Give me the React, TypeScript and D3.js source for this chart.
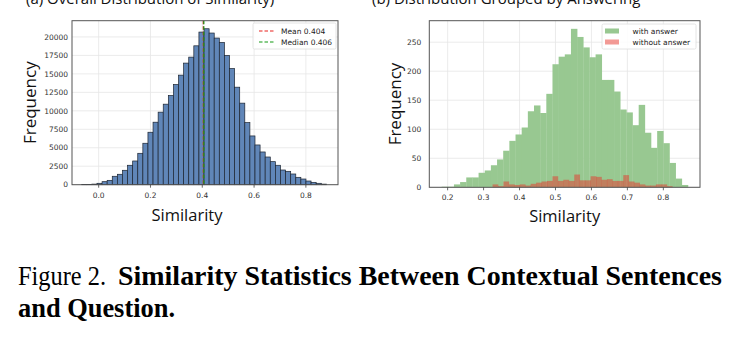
import React from 'react';
import * as d3 from 'd3';

// (a) all sentences: histogram counts, equal bins
const allCounts = [
  10, 30, 80, 190, 410, 590, 1140, 1410, 1950, 2630,
  3210, 4250, 5610, 7100, 8460, 9820, 10900, 12070, 13560, 14830,
  16460, 17270, 18800, 20660, 21110, 20530, 19850, 19260, 17500, 15730,
  13200, 11040, 8400, 6600, 5380, 4430, 3750, 3120, 2630, 1990,
  1810, 1450, 1000, 770, 500, 320, 190, 80,
];
const allBinStart = -0.0656;
const allBinWidth = 0.01968;
const meanValue = 0.404;
const medianValue = 0.406;
const leftXTicks = [0.0, 0.2, 0.4, 0.6, 0.8];
const leftYTicks = [0, 2500, 5000, 7500, 10000, 12500, 15000, 17500, 20000];

// (b) with / without answer
const withAnswer = [
  1, 1, 5, 9, 17, 17, 25, 29, 38, 48,
  63, 80, 91, 103, 131, 141, 128, 161, 212, 225,
  229, 273, 259, 241, 224, 229, 185, 185, 165, 134,
  129, 107, 142, 94, 68, 97, 76, 42, 15, 4,
];
const withStart = 0.1833;
const withWidth = 0.01713;
const withoutAnswer = [
  5, 2, 10, 5, 4, 5, 3, 6, 8, 10,
  11, 19, 11, 13, 11, 22, 12, 12, 19, 18,
  13, 14, 11, 11, 21, 10, 8, 5, 3, 3,
  5, 5, 2,
];
const withoutStart = 0.325;
const withoutWidth = 0.01515;
const rightXTicks = [0.2, 0.3, 0.4, 0.5, 0.6, 0.7, 0.8];
const rightYTicks = [0, 50, 100, 150, 200, 250];

const tickFont = 'DejaVu Sans, sans-serif';
const labelFont = 'Open Sans, sans-serif';
const serif = 'Liberation Serif, Times New Roman, serif';

const fmt1 = d3.format('.1f');

const App: React.FC = () => {
  // left panel scales
  const lx = d3.scaleLinear().domain([-0.103, 0.924]).range([72, 338]);
  const ly = d3.scaleLinear().domain([0, 22200]).range([184.7, 20.7]);
  // right panel scales
  const rx = d3.scaleLinear().domain([0.149, 0.902]).range([429.3, 700]);
  const ry = d3.scaleLinear().domain([0, 287]).range([187.3, 20.7]);

  const [lx0, lx1] = lx.range();
  const [ly0, ly1] = ly.range();
  const [rx0, rx1] = rx.range();
  const [ry0, ry1] = ry.range();

  return (
    <svg width={740} height={338} style={{ position: 'absolute', left: 0, top: 0, background: '#fff' }}>
      {/* sub captions, cut off at the top edge like in the page crop */}
      <text x={26} y={3.5} fontFamily={labelFont} fontSize={15} fill="#111">
        (a) Overall Distribution of Similarity)
      </text>
      <text x={372} y={3.5} fontFamily={labelFont} fontSize={15} fill="#111">
        (b) Distribution Grouped by Answering
      </text>

      {/* ---------- left panel ---------- */}
      <g>
        {leftXTicks.map((t) => (
          <line key={'lgx' + t} x1={lx(t)} x2={lx(t)} y1={ly1} y2={ly0} stroke="#e6e6e6" strokeWidth={0.8} />
        ))}
        {leftYTicks.map((t) => (
          <line key={'lgy' + t} x1={lx0} x2={lx1} y1={ly(t)} y2={ly(t)} stroke="#e6e6e6" strokeWidth={0.8} />
        ))}
        {allCounts.map((c, i) => {
          const a = allBinStart + i * allBinWidth;
          const b = a + allBinWidth;
          return (
            <rect
              key={'lb' + i}
              x={lx(a)}
              y={ly(c)}
              width={lx(b) - lx(a)}
              height={ly(0) - ly(c)}
              fill="#6086b8"
              stroke="#1c2430"
              strokeWidth={0.7}
            />
          );
        })}
        <line x1={lx(meanValue)} x2={lx(meanValue)} y1={ly1} y2={ly0} stroke="#e8201c" strokeWidth={1.2} strokeDasharray="3.5,2" />
        <line x1={lx(medianValue)} x2={lx(medianValue)} y1={ly1} y2={ly0} stroke="#139a13" strokeWidth={1.2} strokeDasharray="3.5,2" />
        <rect x={lx0} y={ly1} width={lx1 - lx0} height={ly0 - ly1} fill="none" stroke="#555" strokeWidth={1} />
        {leftXTicks.map((t) => (
          <g key={'lxt' + t}>
            <line x1={lx(t)} x2={lx(t)} y1={ly0} y2={ly0 + 3} stroke="#444" strokeWidth={0.8} />
            <text x={lx(t)} y={ly0 + 13} textAnchor="middle" fontFamily={tickFont} fontSize={7.5} fill="#333">
              {fmt1(t)}
            </text>
          </g>
        ))}
        {leftYTicks.map((t) => (
          <text key={'lyt' + t} x={lx0 - 4} y={ly(t) + 2.7} textAnchor="end" fontFamily={tickFont} fontSize={7.5} fill="#333">
            {t}
          </text>
        ))}
        {/* legend */}
        <rect x={253} y={23} width={83} height={26} fill="#fff" fillOpacity={0.85} stroke="#ddd" strokeWidth={0.8} rx={1.5} />
        <line x1={259} x2={275} y1={31} y2={31} stroke="#e8201c" strokeWidth={1.2} strokeDasharray="3.5,2" />
        <text x={281} y={33.6} fontFamily={tickFont} fontSize={7.5} fill="#222">Mean 0.404</text>
        <line x1={259} x2={275} y1={42} y2={42} stroke="#139a13" strokeWidth={1.2} strokeDasharray="3.5,2" />
        <text x={281} y={44.6} fontFamily={tickFont} fontSize={7.5} fill="#222">Median 0.406</text>

        <text x={187} y={221} textAnchor="middle" fontFamily={labelFont} fontSize={16.5} fill="#111">
          Similarity
        </text>
        <text
          transform={`translate(36, ${(ly0 + ly1) / 2}) rotate(-90)`}
          textAnchor="middle"
          fontFamily={labelFont}
          fontSize={17}
          fill="#111"
        >
          Frequency
        </text>
      </g>

      {/* ---------- right panel ---------- */}
      <g>
        {rightXTicks.map((t) => (
          <line key={'rgx' + t} x1={rx(t)} x2={rx(t)} y1={ry1} y2={ry0} stroke="#e6e6e6" strokeWidth={0.8} />
        ))}
        {rightYTicks.map((t) => (
          <line key={'rgy' + t} x1={rx0} x2={rx1} y1={ry(t)} y2={ry(t)} stroke="#e6e6e6" strokeWidth={0.8} />
        ))}
        {withAnswer.map((c, i) => {
          const a = withStart + i * withWidth;
          const b = a + withWidth;
          return (
            <rect
              key={'gb' + i}
              x={rx(a)}
              y={ry(c)}
              width={rx(b) - rx(a) + 0.3}
              height={ry(0) - ry(c)}
              fill="#98c891"
            />
          );
        })}
        {withoutAnswer.map((c, i) => {
          const a = withoutStart + i * withoutWidth;
          const b = a + withoutWidth;
          return (
            <rect
              key={'rb' + i}
              x={rx(a)}
              y={ry(c)}
              width={rx(b) - rx(a) + 0.3}
              height={ry(0) - ry(c)}
              fill="#e8352c"
              fillOpacity={0.5}
            />
          );
        })}
        <rect x={rx0} y={ry1} width={rx1 - rx0} height={ry0 - ry1} fill="none" stroke="#555" strokeWidth={1} />
        {rightXTicks.map((t) => (
          <g key={'rxt' + t}>
            <line x1={rx(t)} x2={rx(t)} y1={ry0} y2={ry0 + 3} stroke="#444" strokeWidth={0.8} />
            <text x={rx(t)} y={ry0 + 13} textAnchor="middle" fontFamily={tickFont} fontSize={7.5} fill="#333">
              {fmt1(t)}
            </text>
          </g>
        ))}
        {rightYTicks.map((t) => (
          <text key={'ryt' + t} x={rx0 - 8} y={ry(t) + 2.7} textAnchor="end" fontFamily={tickFont} fontSize={7.5} fill="#333">
            {t}
          </text>
        ))}
        {/* legend */}
        <rect x={602} y={24} width={94} height={25} fill="#fff" fillOpacity={0.85} stroke="#ddd" strokeWidth={0.8} rx={1.5} />
        <rect x={605} y={28.5} width={14} height={5} fill="#98c891" />
        <text x={632.5} y={33.6} fontFamily={tickFont} fontSize={7.5} fill="#222">with answer</text>
        <rect x={605} y={39.5} width={14} height={5} fill="#e8352c" fillOpacity={0.5} />
        <text x={632.5} y={44.6} fontFamily={tickFont} fontSize={7.5} fill="#222">without answer</text>

        <text x={(rx0 + rx1) / 2} y={222} textAnchor="middle" fontFamily={labelFont} fontSize={16.5} fill="#111">
          Similarity
        </text>
        <text
          transform={`translate(401, ${(ry0 + ry1) / 2}) rotate(-90)`}
          textAnchor="middle"
          fontFamily={labelFont}
          fontSize={17}
          fill="#111"
        >
          Frequency
        </text>
      </g>

      {/* figure caption */}
      <text x={18} y={285} fontFamily={serif} fontSize={28} fill="#000" textLength={88} lengthAdjust="spacingAndGlyphs">
        Figure 2.
      </text>
      <text x={118} y={285} fontFamily={serif} fontSize={28} fontWeight="bold" fill="#000" textLength={604} lengthAdjust="spacingAndGlyphs">
        Similarity Statistics Between Contextual Sentences
      </text>
      <text x={18} y={317} fontFamily={serif} fontSize={28} fontWeight="bold" fill="#000" textLength={157} lengthAdjust="spacingAndGlyphs">
        and Question.
      </text>
    </svg>
  );
};

export default App;
